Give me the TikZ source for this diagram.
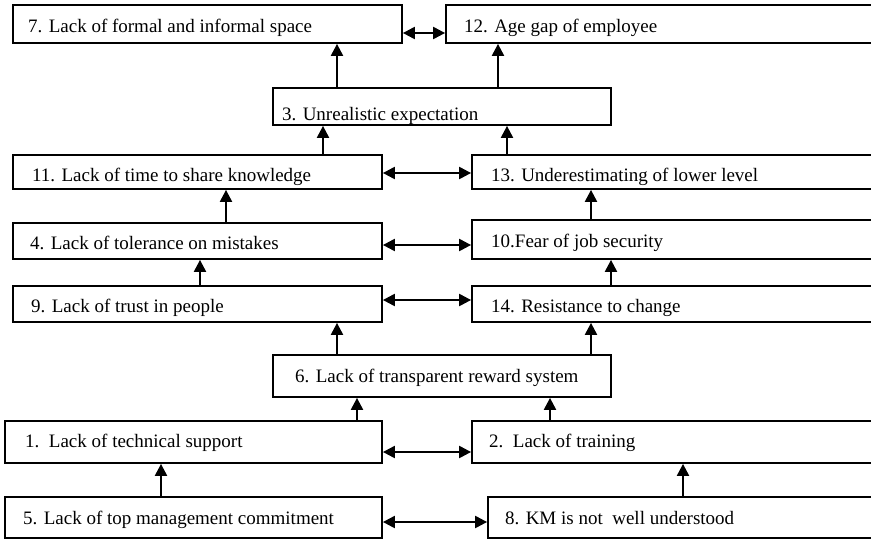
\documentclass[tikz,border=0pt]{standalone}
\usepackage{fontspec}
\setmainfont{Liberation Serif}
\usetikzlibrary{arrows.meta}

\tikzset{
  boxst/.style={draw, line width=1.8pt, rectangle, inner sep=0pt, fill=white},
  lbl/.style={inner sep=0pt, font=\fontsize{19}{22}\selectfont},
  tip/.style={},
  arr/.style={line width=2.2pt, -{Triangle[length=12pt,width=12pt]}},
  dbl/.style={line width=2.2pt, {Triangle[length=12pt,width=12pt]}-{Triangle[length=12pt,width=12pt]}},
}

% box: name, x1, y1, x2, y2, text x, text baseline, text
\newcommand{\causebox}[8]{%
  \node[boxst, minimum width={(#4)-(#2)}, minimum height={(#5)-(#3)}]
    (#1) at ({((#2)+(#4))/2},{((#3)+(#5))/2}) {};
  \node[lbl, anchor=base west] (#1t) at (#6,#7) {#8};
}

\begin{document}
\begin{tikzpicture}[x=1pt,y=-1pt]
  \clip (0,0) rectangle (871,539);
  \fill[white] (0,0) rectangle (871,539);

  \causebox{b7}{13}{5}{402}{43}{28}{32}{7. Lack of formal and informal space}
  \causebox{b12}{446}{5}{880}{43}{464}{32}{12. Age gap of employee}
  \causebox{b3}{273}{88}{611}{125}{282}{120}{3. Unrealistic expectation}
  \causebox{b11}{13}{155}{382}{189}{32}{181}{11. Lack of time to share knowledge}
  \causebox{b13}{472}{155}{880}{189}{491}{181}{13. Underestimating of lower level}
  \causebox{b4}{13}{223}{382}{259}{30}{249}{4. Lack of tolerance on mistakes}
  \causebox{b10}{472}{220}{880}{259}{491}{247}{10.Fear of job security}
  \causebox{b9}{13}{286}{382}{322}{31}{312}{9. Lack of trust in people}
  \causebox{b14}{472}{286}{880}{322}{491}{312}{14. Resistance to change}
  \causebox{b6}{273}{355}{611}{397}{295}{382}{6. Lack of transparent reward system}
  \causebox{b1}{5}{421}{382}{463}{25}{447}{1.\ \ Lack of technical support}
  \causebox{b2}{472}{421}{880}{463}{489}{447}{2.\ \ Lack of training}
  \causebox{b5}{5}{497}{382}{538}{23}{524}{5. Lack of top management commitment}
  \causebox{b8}{488}{497}{880}{538}{505}{524}{8. KM is not\ \ well understood}

  % two-way links between the columns
  \draw[dbl] (b7.east |- 0,33)   -- (b12.west |- 0,33);
  \draw[dbl] (b11.east |- 0,173) -- (b13.west |- 0,173);
  \draw[dbl] (b4.east |- 0,245)  -- (b10.west |- 0,245);
  \draw[dbl] (b9.east |- 0,300)  -- (b14.west |- 0,300);
  \draw[dbl] (b1.east |- 0,452)  -- (b2.west |- 0,452);
  \draw[dbl] (b5.east |- 0,522)  -- (b8.west |- 0,522);

  % upward influences
  \draw[arr] (b3.north -| 337,0)  -- (b7.south -| 337,0);
  \draw[arr] (b3.north -| 498,0)  -- (b12.south -| 498,0);
  \draw[arr] (b11.north -| 323,0) -- (b3.south -| 323,0);
  \draw[arr] (b13.north -| 507,0) -- (b3.south -| 507,0);
  \draw[arr] (b4.north -| 226,0)  -- (b11.south -| 226,0);
  \draw[arr] (b10.north -| 591,0) -- (b13.south -| 591,0);
  \draw[arr] (b9.north -| 200,0)  -- (b4.south -| 200,0);
  \draw[arr] (b14.north -| 611,0) -- (b10.south -| 611,0);
  \draw[arr] (b6.north -| 337,0)  -- (b9.south -| 337,0);
  \draw[arr] (b6.north -| 591,0)  -- (b14.south -| 591,0);
  \draw[arr] (b1.north -| 357,0)  -- (b6.south -| 357,0);
  \draw[arr] (b2.north -| 550,0)  -- (b6.south -| 550,0);
  \draw[arr] (b5.north -| 161,0)  -- (b1.south -| 161,0);
  \draw[arr] (b8.north -| 683,0)  -- (b2.south -| 683,0);
\end{tikzpicture}
\end{document}
